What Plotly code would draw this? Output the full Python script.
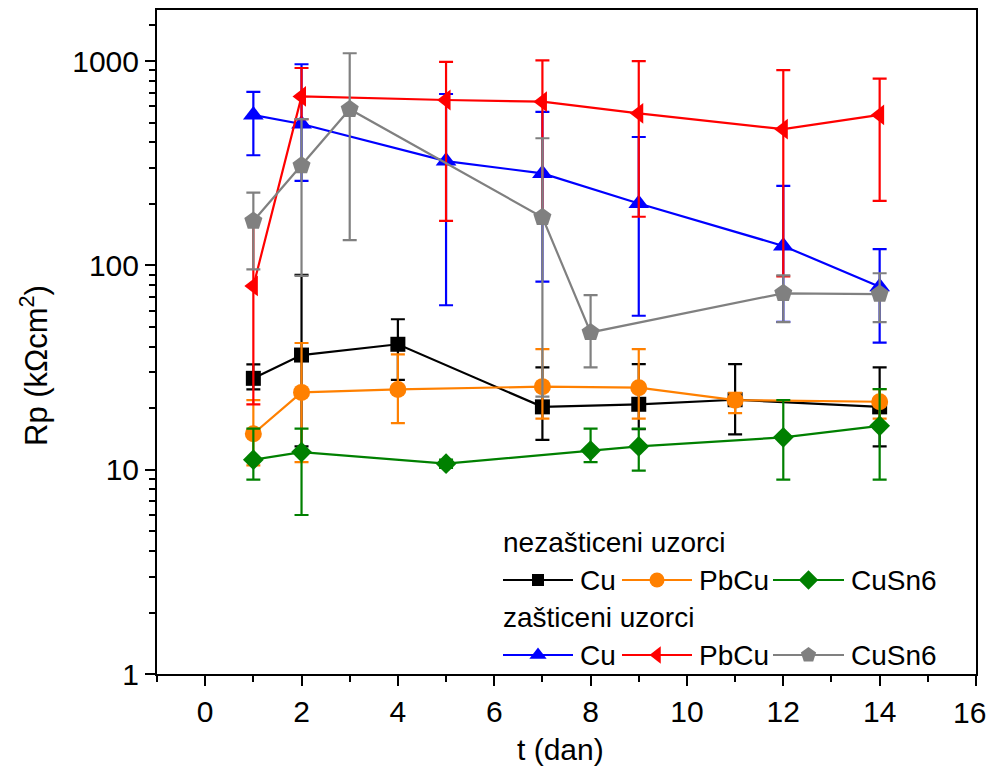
import plotly.graph_objects as go

# ---- data: unprotected samples (nezašticeni uzorci) ----
t_cu_u = [1, 2, 4, 7, 9, 11, 14]
rp_cu_u = [28.0, 36.4, 41.1, 20.3, 20.9, 22.0, 20.3]
hi_cu_u = [32.8, 90.0, 54.5, 31.7, 32.9, 32.9, 31.7]
lo_cu_u = [24.7, 13.0, 27.5, 14.0, 15.8, 14.9, 13.0]

t_pb_u = [1, 2, 4, 7, 9, 11, 14]
rp_pb_u = [15.0, 23.9, 24.7, 25.5, 25.2, 21.9, 21.5]
hi_pb_u = [21.9, 41.7, 36.7, 38.9, 38.9, 23.8, 24.8]
lo_pb_u = [10.5, 10.9, 16.9, 17.8, 17.8, 18.9, 17.8]

t_sn_u = [1, 2, 5, 8, 9, 12, 14]
rp_sn_u = [11.2, 12.2, 10.7, 12.4, 13.0, 14.4, 16.4]
hi_sn_u = [15.9, 15.9, 11.2, 15.9, 15.9, 21.9, 24.8]
lo_sn_u = [8.95, 6.0, 10.2, 10.9, 9.9, 8.95, 8.95]

# ---- data: protected samples (zašticeni uzorci) ----
t_cu_p = [1, 2, 5, 7, 9, 12, 14]
rp_cu_p = [545, 492, 324, 282, 201, 124.5, 78.7]
hi_cu_p = [706, 965, 690, 564, 425, 245, 120]
lo_cu_p = [346, 259, 63.8, 83.2, 56.7, 52.9, 41.9]

t_pb_p = [1, 2, 5, 7, 9, 12, 14]
rp_pb_p = [79.3, 671, 645, 633, 555, 464, 545]
hi_pb_p = [165, 925, 990, 1008, 1000, 904, 820]
lo_pb_p = [20.9, 519, 165, 172, 173, 88.3, 207]

t_sn_p = [1, 2, 3, 7, 8, 12, 14]
rp_sn_p = [165, 308, 581, 172, 47.0, 73.0, 72.4]
hi_sn_p = [227, 520, 1092, 419, 71.6, 89.4, 91.5]
lo_sn_p = [95.7, 88.8, 133, 22.8, 31.7, 52.7, 52.7]

x_ticks = [0, 2, 4, 6, 8, 10, 12, 14, 16]
x_tick_text = ["0", "2", "4", "6", "8", "10", "12", "14", ""]  # "16" drawn below
y_ticks = [1, 10, 100, 1000]
y_tick_text = ["1", "10", "100", "1000"]

series = [
    ("Cu", t_cu_u, rp_cu_u, hi_cu_u, lo_cu_u, "#000000", "square", 15, 12),
    ("PbCu", t_pb_u, rp_pb_u, hi_pb_u, lo_pb_u, "#FF8000", "circle", 17, 15),
    ("CuSn6", t_sn_u, rp_sn_u, hi_sn_u, lo_sn_u, "#008000", "diamond", 16, 15),
    ("Cu", t_cu_p, rp_cu_p, hi_cu_p, lo_cu_p, "#0000FF", "triangle-up", 18, 15),
    ("PbCu", t_pb_p, rp_pb_p, hi_pb_p, lo_pb_p, "#FF0000", "triangle-left", 18, 15),
    ("CuSn6", t_sn_p, rp_sn_p, hi_sn_p, lo_sn_p, "#808080", "pentagon", 19, 16),
]

FONT = "Liberation Sans, Arial, sans-serif"
fig = go.Figure()

for name, t, v, hi, lo, col, sym, sz, _ in series:
    fig.add_trace(go.Scatter(
        x=t, y=v, mode="lines+markers", name=name, showlegend=False,
        line=dict(color=col, width=2.2),
        marker=dict(symbol=sym, size=sz, color=col, line=dict(width=0)),
        error_y=dict(type="data", symmetric=False,
                     array=[h - y for h, y in zip(hi, v)],
                     arrayminus=[y - l for l, y in zip(lo, v)],
                     color=col, thickness=2.2, width=7),
    ))

# page body has an 8px margin, so the figure is offset by (8, 8) in the window
OFF = 8
# plot box in window pixels
L, R, T, B = 157, 976, 10, 674
W, H = 995 - 2 * OFF, 776 - 2 * OFF


def px(x):  # window pixel -> paper x
    return (x - L) / (R - L)


def py(y):  # window pixel -> paper y
    return (B - y) / (B - T)


leg_rows = [
    (580, [(503, 573, 0), (622, 692, 1), (773, 844, 2)]),
    (655, [(503, 573, 3), (622, 692, 4), (773, 844, 5)]),
]
for ry, items in leg_rows:
    for x0, x1, idx in items:
        name, _, _, _, _, col, sym, _, lsz = series[idx]
        xm = (x0 + x1) / 2
        fig.add_trace(go.Scatter(
            x=[x0, x1], y=[ry, ry], mode="lines", xaxis="x2", yaxis="y2",
            line=dict(color=col, width=2.2), showlegend=False, hoverinfo="skip"))
        fig.add_trace(go.Scatter(
            x=[xm], y=[ry], mode="markers", xaxis="x2", yaxis="y2",
            marker=dict(symbol=sym, size=lsz, color=col, line=dict(width=0)),
            showlegend=False, hoverinfo="skip"))
        fig.add_annotation(x=px(x1 + 5), y=py(ry), xref="paper", yref="paper", text=name,
                           showarrow=False, xanchor="left", yanchor="middle",
                           font=dict(size=28, color="black", family=FONT))

fig.add_annotation(x=px(501), y=py(542), xref="paper", yref="paper", text="nezašticeni uzorci",
                   showarrow=False, xanchor="left", yanchor="middle",
                   font=dict(size=28, color="black", family=FONT))
fig.add_annotation(x=px(501), y=py(617), xref="paper", yref="paper", text="zašticeni uzorci",
                   showarrow=False, xanchor="left", yanchor="middle",
                   font=dict(size=28, color="black", family=FONT))

# last x tick label, kept inside the visible page width
fig.add_annotation(x=px(987), y=py(712), xref="paper", yref="paper", text="16",
                   showarrow=False, xanchor="right", yanchor="middle", borderpad=0,
                   font=dict(size=30, color="black", family=FONT))

# axis titles
fig.add_annotation(x=px(560), y=py(749), xref="paper", yref="paper", text="t (dan)",
                   showarrow=False, xanchor="center", yanchor="middle",
                   font=dict(size=30, color="black", family=FONT))
fig.add_annotation(x=px(34), y=py(366), xref="paper", yref="paper",
                   text="Rp (kΩcm<sup>2</sup>)", textangle=-90,
                   showarrow=False, xanchor="center", yanchor="middle",
                   font=dict(size=31, color="black", family=FONT))

fig.update_layout(
    width=W, height=H,
    margin=dict(l=L - OFF, r=W - (R - OFF), t=T - OFF, b=H - (B - OFF)),
    paper_bgcolor="white", plot_bgcolor="white",
    font=dict(family=FONT, size=28, color="black"),
    xaxis=dict(
        range=[-1, 16], tickvals=x_ticks, ticktext=x_tick_text,
        ticks="outside", ticklen=10, tickwidth=2,
        tickcolor="black", showline=True, linecolor="black", linewidth=2,
        mirror=True, showgrid=False, zeroline=False, automargin=False,
        tickfont=dict(size=30, family=FONT),
        minor=dict(dtick=1, ticks="outside", ticklen=6, tickwidth=2, tickcolor="black"),
    ),
    yaxis=dict(
        type="log", range=[0, 3.25], tickvals=y_ticks, ticktext=y_tick_text,
        ticks="outside", ticklen=10, tickwidth=2, tickcolor="black",
        showline=True, linecolor="black", linewidth=2, mirror=True,
        showgrid=False, zeroline=False, automargin=False,
        tickfont=dict(size=30, family=FONT),
        minor=dict(tickvals=[2, 3, 4, 5, 6, 7, 8, 9, 20, 30, 40, 50, 60, 70, 80, 90,
                             200, 300, 400, 500, 600, 700, 800, 900, 1500],
                   ticks="outside", ticklen=6, tickwidth=2, tickcolor="black"),
    ),
    xaxis2=dict(overlaying="x", range=[L, R], visible=False, fixedrange=True),
    yaxis2=dict(overlaying="y", range=[B, T], visible=False, fixedrange=True),
)

fig.write_html("out.html")
